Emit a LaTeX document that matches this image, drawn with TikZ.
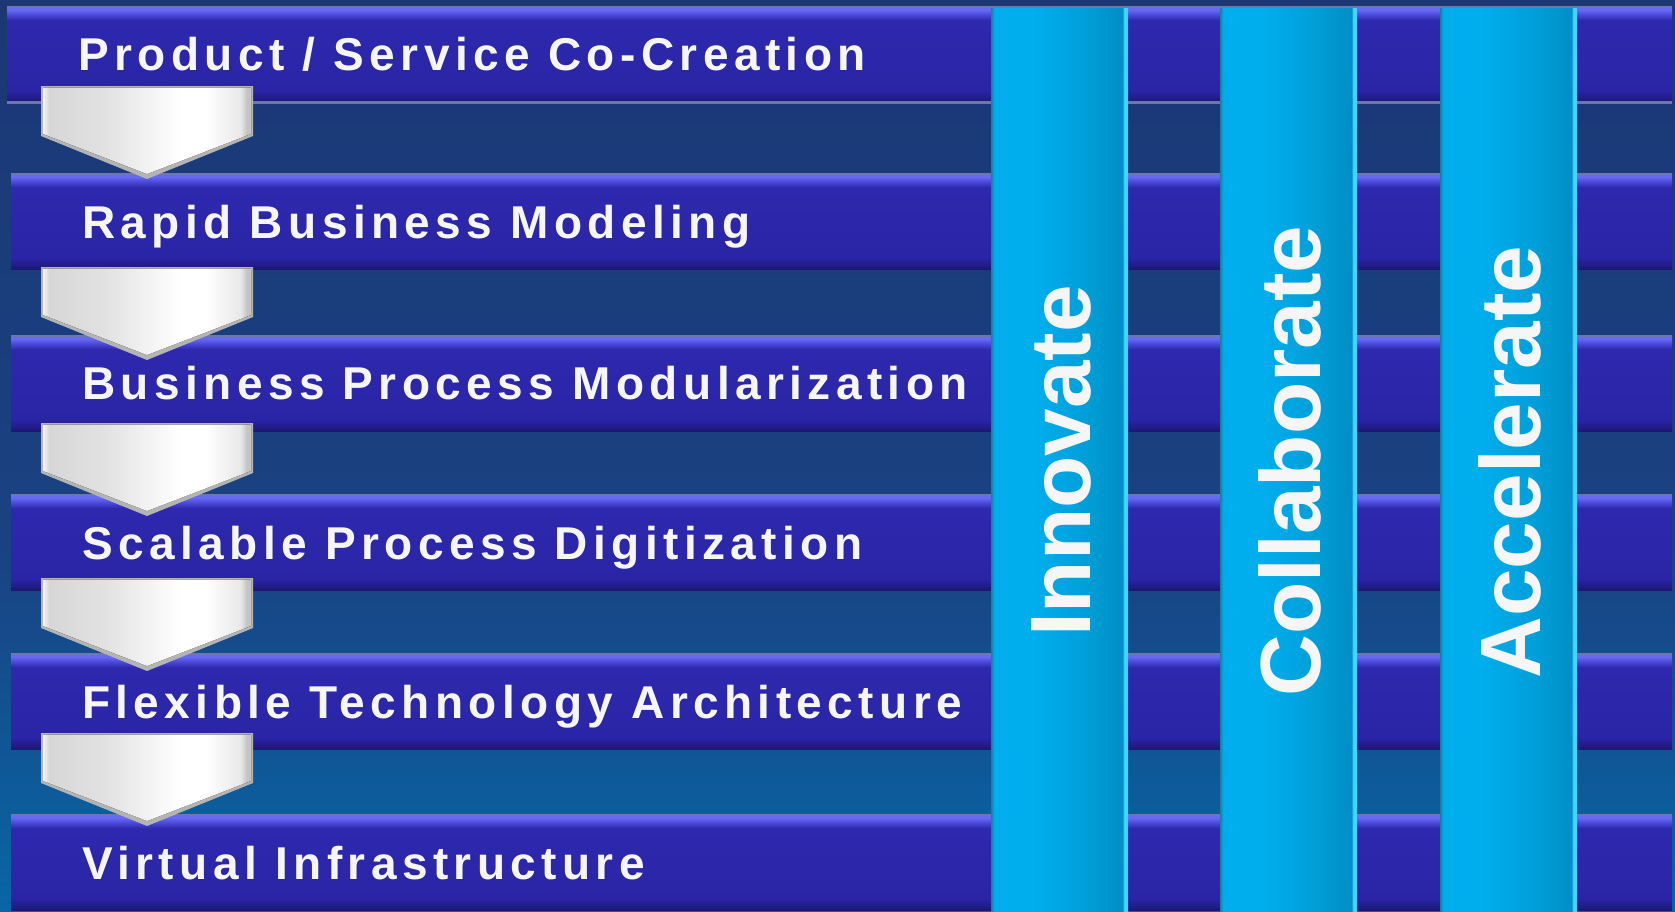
\documentclass[tikz,border=0pt]{standalone}
\usepackage{fontspec}
\setmainfont{Liberation Sans}
\newfontfamily\barfont[LetterSpace=11.8]{Liberation Sans}
\newfontfamily\colfont{Liberation Sans}
\definecolor{bgtop}{HTML}{1B3775}
\definecolor{bgmid}{HTML}{1A4282}
\definecolor{bgbot}{HTML}{0866A6}
\definecolor{barA}{HTML}{1C1670}
\definecolor{barB}{HTML}{221C88}
\definecolor{barC}{HTML}{2A24A6}
\definecolor{barD}{HTML}{2E28AE}
\definecolor{barE}{HTML}{4A4AD8}
\definecolor{barF}{HTML}{6868F6}
\definecolor{barline}{HTML}{6E76AE}
\definecolor{colA}{HTML}{1A7EAA}
\definecolor{colB}{HTML}{00AEEE}
\definecolor{colC}{HTML}{009ED8}
\definecolor{colD}{HTML}{008EC6}
\definecolor{colE}{HTML}{44D4FF}
\definecolor{arA}{HTML}{F4F4F4}
\definecolor{arB}{HTML}{D6D6D6}
\definecolor{arC}{HTML}{E2E2E2}
\definecolor{arD}{HTML}{FFFFFF}
\definecolor{arE}{HTML}{E8E8E8}
\definecolor{arF}{HTML}{C4C4C4}
\definecolor{arEdge}{HTML}{B4B4B4}
\definecolor{txt}{HTML}{F6F6F6}
\pgfdeclareverticalshading{bgshade}{100bp}{color(0bp)=(bgbot); color(25bp)=(bgbot); color(45bp)=(bgmid); color(75bp)=(bgtop); color(100bp)=(bgtop)}
\pgfdeclareverticalshading{barshade}{100bp}{color(0bp)=(barA); color(25bp)=(barA); color(27bp)=(barB); color(31bp)=(barC); color(68bp)=(barD); color(71bp)=(barE); color(73.5bp)=(barF); color(75bp)=(barF); color(100bp)=(barF)}
\pgfdeclarehorizontalshading{colshade}{100bp}{color(0bp)=(colA); color(25bp)=(colA); color(26.2bp)=(colB); color(40bp)=(colB); color(60bp)=(colC); color(73bp)=(colD); color(73.6bp)=(colE); color(75bp)=(colE); color(100bp)=(colE)}
\pgfdeclarehorizontalshading{arshade}{100bp}{color(0bp)=(arA); color(25bp)=(arA); color(26.5bp)=(arB); color(40bp)=(arC); color(58bp)=(arD); color(64bp)=(arD); color(72.5bp)=(arE); color(74bp)=(arF); color(100bp)=(arF)}
\tikzset{
  bartext/.style={text=txt, anchor=base west, inner sep=0pt, font=\barfont\bfseries\fontsize{46}{55}\selectfont},
  coltext/.style={text=txt, anchor=center, inner sep=0pt, rotate=90, font=\colfont\bfseries\fontsize{85.5}{98}\selectfont},
}
\begin{document}
\begin{tikzpicture}[x=1pt,y=-1pt]
\useasboundingbox (0,0) rectangle (1675,911);
\fill[shading=bgshade] (0,0) rectangle (1675,911);
% horizontal bars
\foreach \bx/\bt in {7/7, 11/174, 11/336, 11/495, 11/654, 11/815}{
  \fill[shading=barshade] (\bx,\bt) rectangle (1672,\bt+95);
  \fill[barline] (\bx,\bt-1.5) rectangle (1672,\bt+0.5);
}
\fill[barline] (7,101) rectangle (1672,104);
% arrows
\foreach \at in {86, 267, 423, 578, 733}{
  \fill[arEdge] (41,\at) -- (253,\at) -- (253,\at+50) -- (147,\at+93) -- (41,\at+50) -- cycle;
  \fill[shading=arshade] (43,\at+1.5) -- (251,\at+1.5) -- (251,\at+48) -- (147,\at+88) -- (43,\at+48) -- cycle;
}
% bar labels
\node[bartext] (t1) at (78,70.5)  {Product / Service Co-Creation};
\node[bartext] (t2) at (82,238) {Rapid Business Modeling};
\node[bartext] (t3) at (82,399.5) {Business Process Modularization};
\node[bartext] (t4) at (82,559) {Scalable Process Digitization};
\node[bartext] (t5) at (82,718) {Flexible Technology Architecture};
\node[bartext] (t6) at (82,879) {Virtual Infrastructure};
% columns
\foreach \cx in {991, 1220, 1440}{
  \fill[shading=colshade] (\cx,7) rectangle (\cx+137,911);
  \fill[barline] (\cx,6) rectangle (\cx+137,8);
}
\node[coltext] (c1) at (1061,461) {Innovate};
\node[coltext] (c2) at (1290,461) {Collaborate};
\node[coltext] (c3) at (1510,462) {Accelerate};
\end{tikzpicture}
\end{document}
